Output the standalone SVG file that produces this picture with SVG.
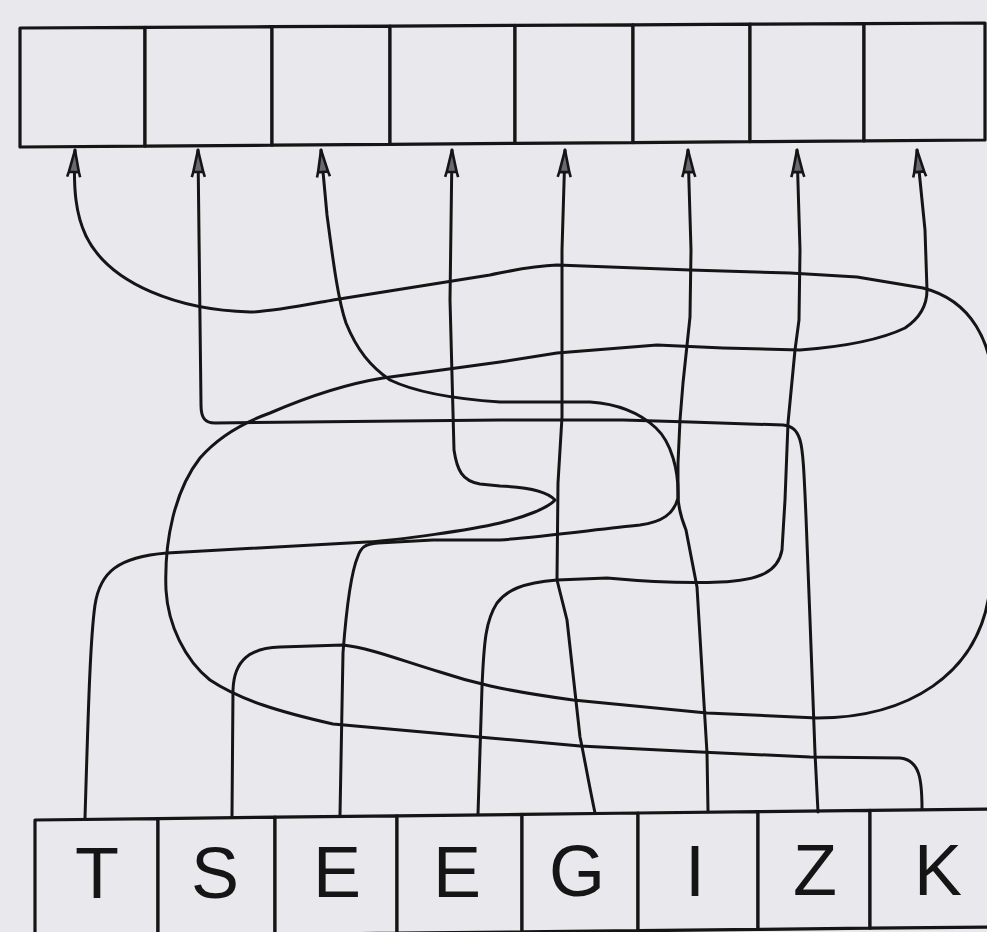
<svg xmlns="http://www.w3.org/2000/svg" width="987" height="932" viewBox="0 0 987 932">
<defs>
<style>
.box{fill:#e9e8ec;stroke:#151515;stroke-width:3.2;stroke-linejoin:round}
.wire{fill:none;stroke:#151515;stroke-width:3;stroke-linejoin:round;stroke-linecap:round}
.lbl{font-family:"Liberation Sans",Arial,sans-serif;font-size:72px;fill:#151515;text-anchor:middle}
</style>
<marker id="ah" viewBox="-30 -9 32 18" refX="0" refY="0" markerWidth="32" markerHeight="18" markerUnits="userSpaceOnUse" orient="auto">
<path d="M0,0 L-22,-5 L-22,5 Z M-22,-5 L-27,-6.5 M-22,5 L-27,6.5" fill="#6a6a6e" stroke="#151515" stroke-width="2.6" stroke-linejoin="round"/>
</marker>
</defs>
<rect x="0" y="0" width="987" height="932" fill="#e9e8ec"/>
<g id="top-row">
<g id="slot1"><path class="box" d="M20,28 L145,27.4 L145,146.1 L20,147 Z"/></g>
<g id="slot2"><path class="box" d="M145,27.4 L272,26.7 L272,145.2 L145,146.1 Z"/></g>
<g id="slot3"><path class="box" d="M272,26.7 L390,26.1 L390,144.3 L272,145.2 Z"/></g>
<g id="slot4"><path class="box" d="M390,26.1 L515,25.4 L515,143.4 L390,144.3 Z"/></g>
<g id="slot5"><path class="box" d="M515,25.4 L633,24.8 L633,142.6 L515,143.4 Z"/></g>
<g id="slot6"><path class="box" d="M633,24.8 L750,24.2 L750,141.7 L633,142.6 Z"/></g>
<g id="slot7"><path class="box" d="M750,24.2 L864,23.6 L864,140.9 L750,141.7 Z"/></g>
<g id="slot8"><path class="box" d="M864,23.6 L985,23 L985,140 L864,140.9 Z"/></g>
</g>
<g id="bottom-row">
<g id="letter1"><path class="box" d="M35,820 L158,818.6 L158,935.7 L35,937 Z"/><text class="lbl" x="97" y="898">T</text></g>
<g id="letter2"><path class="box" d="M158,818.6 L275,817.2 L275,934.5 L158,935.7 Z"/><text class="lbl" x="215" y="898">S</text></g>
<g id="letter3"><path class="box" d="M275,817.2 L397,815.8 L397,933.2 L275,934.5 Z"/><text class="lbl" x="337" y="897">E</text></g>
<g id="letter4"><path class="box" d="M397,815.8 L522,814.4 L522,931.9 L397,933.2 Z"/><text class="lbl" x="457" y="897">E</text></g>
<g id="letter5"><path class="box" d="M522,814.4 L638,813 L638,930.7 L522,931.9 Z"/><text class="lbl" x="577" y="896">G</text></g>
<g id="letter6"><path class="box" d="M638,813 L758,811.6 L758,929.4 L638,930.7 Z"/><text class="lbl" x="695" y="896">I</text></g>
<g id="letter7"><path class="box" d="M758,811.6 L870,810.4 L870,928.2 L758,929.4 Z"/><text class="lbl" x="815" y="895">Z</text></g>
<g id="letter8"><path class="box" d="M870,810.4 L995,809 L995,927 L870,928.2 Z"/><text class="lbl" x="938" y="895">K</text></g>
</g>
<g id="connectors">
<path class="wire" marker-end="url(#ah)" d="M232,816 L233,690 C234,660 250,648 280,647 L343,645 C370,648 400,660 440,672 C470,682 500,690 573,700 L707,713 L817,718 C900,718 985,680 991,577 L994,400 C994,340 970,300 923,288 L857,277 L790,273 L690,270 L557,265 C530,266 510,271 490,275 L333,300 C300,306 270,312 250,312 C180,310 110,285 86,236 C76,215 73,190 75,150"/>
<path class="wire" marker-end="url(#ah)" d="M85,818 C88,720 90,640 95,605 C100,572 118,557 167,553 L367,542 C400,540 470,530 500,523 C525,517 548,508 555,500 C548,492 528,487 500,486 L480,484 C462,481 457,470 454,450 L450,300 L452,150"/>
<path class="wire" marker-end="url(#ah)" d="M340,815 L343,653 C347,600 352,570 358,556 C361,548 364,544 378,543 L433,540 L500,540 C540,537 600,529 640,525 C662,522 674,514 678,498 C679,470 671,442 656,428 C640,413 620,404 590,402 L500,402 C455,399 415,392 390,380 C370,366 357,350 346,323 C338,300 333,260 327,215 L321,150"/>
<path class="wire" marker-end="url(#ah)" d="M818,812 L815,753 L810,620 L806,517 C804,470 803,450 800,440 C797,430 792,426 783,425 L690,422 L623,420 L500,420 L215,423 C205,423 201,418 201,405 L200,320 L198,150"/>
<path class="wire" marker-end="url(#ah)" d="M478,814 L482,687 C484,640 486,620 497,603 C507,590 522,583 557,580 L607,578 C640,581 680,584 720,582 C760,580 778,572 782,550 L785,500 L788,423 L795,350 L799,320 L800,250 L797,150"/>
<path class="wire" marker-end="url(#ah)" d="M595,813 C588,780 583,750 580,737 L567,620 L557,580 L558,483 L562,417 L562,250 L565,150"/>
<path class="wire" marker-end="url(#ah)" d="M708,811 L707,753 L703,687 L697,587 L686,530 C680,515 678,505 678,495 L678,463 L680,420 L683,383 L690,317 L691,250 L688,150"/>
<path class="wire" marker-end="url(#ah)" d="M922,809 C922,780 920,760 900,758 L810,757 L700,752 L580,746 L490,738 L333,724 C280,712 240,700 210,680 C185,660 168,625 166,590 C164,540 175,490 200,458 C220,435 245,422 270,413 C300,400 340,385 383,378 L500,362 L557,353 L657,345 L723,348 L800,350 C840,347 880,340 905,328 C920,318 927,305 927,290 L925,230 L917,150"/>
</g>
</svg>
